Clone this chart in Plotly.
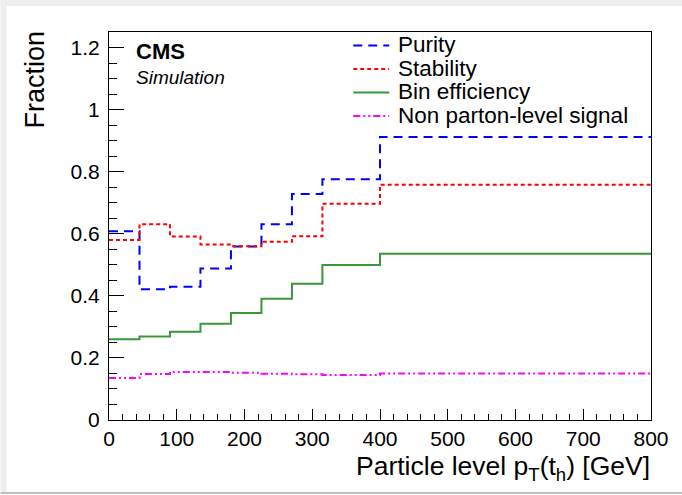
import plotly.graph_objects as go

# ---- data ----
bin_edges = [0, 45, 90, 135, 180, 225, 270, 315, 400, 800]
purity = [0.608, 0.421, 0.429, 0.488, 0.559, 0.631, 0.728, 0.776, 0.912]
stability = [0.580, 0.631, 0.591, 0.565, 0.560, 0.574, 0.592, 0.697, 0.758]
bin_eff = [0.260, 0.269, 0.284, 0.310, 0.345, 0.391, 0.439, 0.499, 0.536]
non_parton = [0.135, 0.148, 0.155, 0.155, 0.152, 0.149, 0.147, 0.145, 0.150]
series_names = ["Purity", "Stability", "Bin efficiency", "Non parton-level signal"]

W, H = 682, 495
L, R, T, B = 108.5, 651, 32, 420

FONT = "Liberation Sans, Arial, Helvetica, sans-serif"

def px(x):
    return (x - L) / (R - L)

def py(y):
    return (B - y) / (B - T)

styles = [
    dict(color="#0000ff", width=2, dash="9px,6px"),
    dict(color="#ff0000", width=2, dash="4px,3px"),
    dict(color="#3a973a", width=2, dash="solid"),
    dict(color="#ff00ff", width=2, dash="7px,3px,2px,3px,2px,3px"),
]

fig = go.Figure()
for name, vals, st in zip(series_names, [purity, stability, bin_eff, non_parton], styles):
    fig.add_trace(go.Scatter(
        x=bin_edges, y=list(vals) + [vals[-1]],
        mode="lines", line_shape="hv", line=st, name=name, showlegend=False,
    ))

TICKFONT = dict(size=21, family=FONT, color="black")

fig.update_layout(
    width=W, height=H,
    margin=dict(l=L, r=W - R, t=T, b=H - B),
    paper_bgcolor="white", plot_bgcolor="white",
    font=dict(family=FONT, size=18, color="black"),
    showlegend=False,
    xaxis=dict(
        range=[0, 800], showgrid=False, zeroline=False,
        showline=True, linecolor="black", linewidth=1, mirror=True,
        ticks="inside", ticklen=11, tickcolor="black", tickwidth=1,
        tickvals=[0, 100, 200, 300, 400, 500, 600, 700, 800],
        minor=dict(ticks="inside", ticklen=6, dtick=20, tickcolor="black", showgrid=False),
        tickfont=TICKFONT,
    ),
    yaxis=dict(
        range=[0, 1.25], showgrid=False, zeroline=False,
        showline=True, linecolor="black", linewidth=1, mirror=True,
        ticks="inside", ticklen=15, tickcolor="black", tickwidth=1,
        tickvals=[0, 0.2, 0.4, 0.6, 0.8, 1.0, 1.2],
        ticktext=["0", "0.2", "0.4", "0.6", "0.8", "1", "1.2"],
        minor=dict(ticks="inside", ticklen=8, dtick=0.05, tickcolor="black", showgrid=False),
        tickfont=TICKFONT, ticklabelstandoff=4,
    ),
)

annotations = [
    dict(text="Particle level p<sub>T</sub>(t<sub>h</sub>) [GeV]", xref="paper", yref="paper",
         x=px(652), y=py(468), xanchor="right", yanchor="middle", showarrow=False,
         font=dict(size=26.5, family=FONT)),
    dict(text="Fraction", xref="paper", yref="paper", textangle=-90,
         x=px(34), y=py(29), xanchor="center", yanchor="top", showarrow=False,
         font=dict(size=27, family=FONT)),
    dict(text="<b>CMS</b>", xref="paper", yref="paper",
         x=px(134), y=py(51), xanchor="left", yanchor="middle", showarrow=False,
         font=dict(size=22, family=FONT)),
    dict(text="<i>Simulation</i>", xref="paper", yref="paper",
         x=px(134), y=py(77), xanchor="left", yanchor="middle", showarrow=False,
         font=dict(size=19, family=FONT)),
]

# canvas shadow / frame decoration
shapes = [
    dict(type="rect", xref="paper", yref="paper", x0=px(0), x1=px(6), y0=py(492), y1=py(0),
         fillcolor="#eeeeee", line=dict(width=0), layer="below"),
    dict(type="rect", xref="paper", yref="paper", x0=px(0), x1=px(682), y0=py(6), y1=py(0),
         fillcolor="#eeeeee", line=dict(width=0), layer="below"),
    dict(type="line", xref="paper", yref="paper", x0=px(0), x1=px(682), y0=py(493), y1=py(493),
         line=dict(color="#aaaaaa", width=1.5)),
]

# manual legend (ROOT-style, tight spacing)
leg_y = [45.5, 69, 92.5, 116]
for name, st, yy in zip(series_names, styles, leg_y):
    shapes.append(dict(type="line", xref="paper", yref="paper",
                       x0=px(353), x1=px(389), y0=py(yy), y1=py(yy),
                       line=dict(color=st["color"], width=st["width"], dash=st["dash"])))
    annotations.append(dict(text=name, xref="paper", yref="paper",
                            x=px(396), y=py(yy - 1), xanchor="left", yanchor="middle",
                            showarrow=False, font=dict(size=22.5, family=FONT)))

fig.update_layout(annotations=annotations, shapes=shapes)

fig.write_html("out.html")
